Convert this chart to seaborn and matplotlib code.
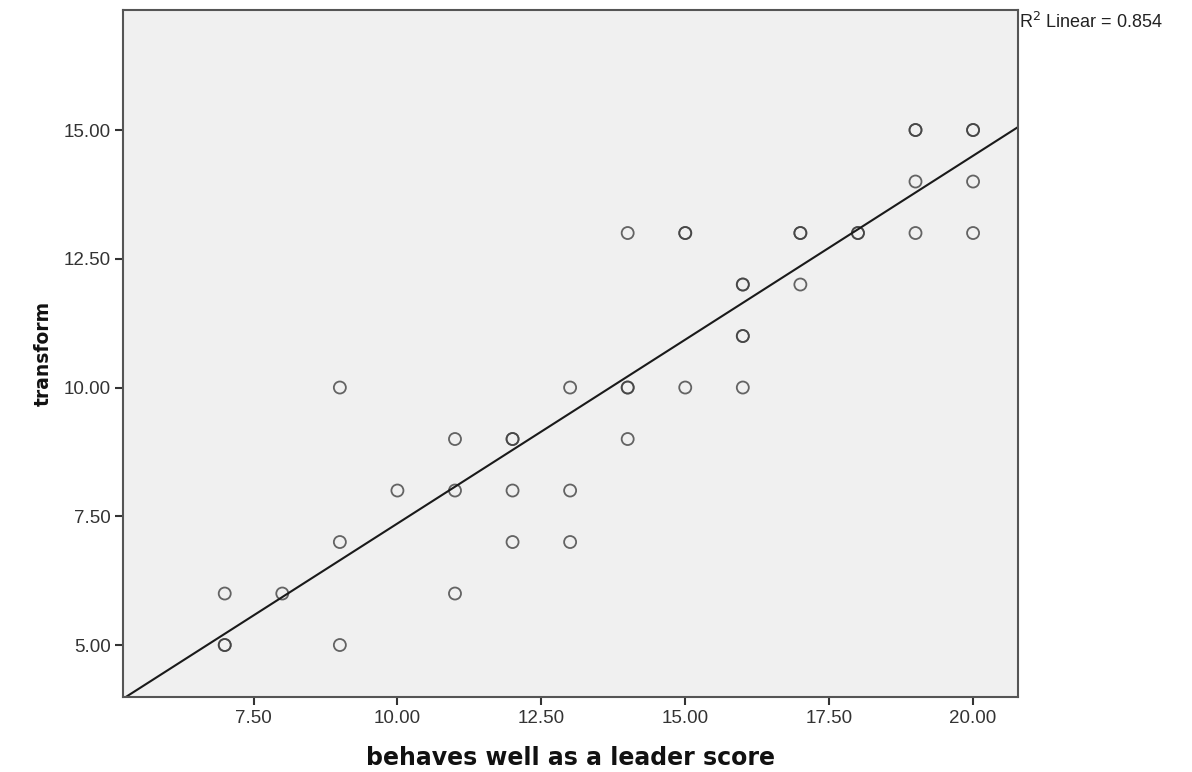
import matplotlib
matplotlib.use("Agg")
import matplotlib.pyplot as plt
import seaborn as sns
import pandas as pd

# Data (duplicates appear as darker circles)
leader_score = [7, 7, 7, 8, 9, 9, 9, 10, 11, 11, 11, 12, 12, 12, 12,
                13, 13, 13, 14, 14, 14, 14, 15, 15, 15, 16, 16, 16, 16, 16,
                17, 17, 17, 18, 18, 19, 19, 19, 19, 20, 20, 20, 20]
transform = [5, 5, 6, 6, 5, 7, 10, 8, 6, 8, 9, 7, 8, 9, 9,
             7, 8, 10, 9, 10, 10, 13, 10, 13, 13, 10, 11, 11, 12, 12,
             12, 13, 13, 13, 13, 13, 14, 15, 15, 13, 14, 15, 15]

x_ticks = [7.5, 10.0, 12.5, 15.0, 17.5, 20.0]
y_ticks = [5.0, 7.5, 10.0, 12.5, 15.0]
r2_label = "R$^2$ Linear = 0.854"

df = pd.DataFrame({"x": leader_score, "y": transform})

sns.set_style("white")
plt.rcParams['font.family'] = ['Liberation Sans', 'DejaVu Sans']

fig = plt.figure(figsize=(11.92, 7.72), dpi=100)
ax = fig.add_axes([0.1032, 0.0971, 0.7508, 0.8899])
ax.set_facecolor("#f0f0f0")
ax.set_xlim(5.233, 20.78)
ax.set_ylim(3.99, 17.33)

sns.regplot(data=df, x="x", y="y", ax=ax, ci=None, truncate=False,
            scatter_kws=dict(s=75, facecolors="none",
                             edgecolors=(0.25, 0.25, 0.25, 0.7), linewidths=1.3),
            line_kws=dict(color="#1a1a1a", linewidth=1.5))

ax.set_xlim(5.233, 20.78)
ax.set_ylim(3.99, 17.33)
ax.set_xticks(x_ticks)
ax.set_yticks(y_ticks)
ax.set_xticklabels([f"{v:.2f}" for v in x_ticks])
ax.set_yticklabels([f"{v:.2f}" for v in y_ticks])
ax.tick_params(axis="both", which="major", direction="out", length=6, width=1.5,
               color="#333333", labelsize=13.5, labelcolor="#333333",
               bottom=True, left=True, pad=3)
for sp in ax.spines.values():
    sp.set_color("#555555")
    sp.set_linewidth(1.5)

ax.set_xlabel("behaves well as a leader score", fontsize=17, fontweight="bold",
              family="DejaVu Sans", color="#111111", labelpad=14)
ax.set_ylabel("transform", fontsize=13.5, fontweight="bold",
              family="DejaVu Sans", color="#111111", labelpad=8)

fig.text(1019 / 1192, 1 - 22 / 772, r2_label, fontsize=13, color="#222222",
         ha="left", va="center")

fig.savefig("out.png", dpi=100)
